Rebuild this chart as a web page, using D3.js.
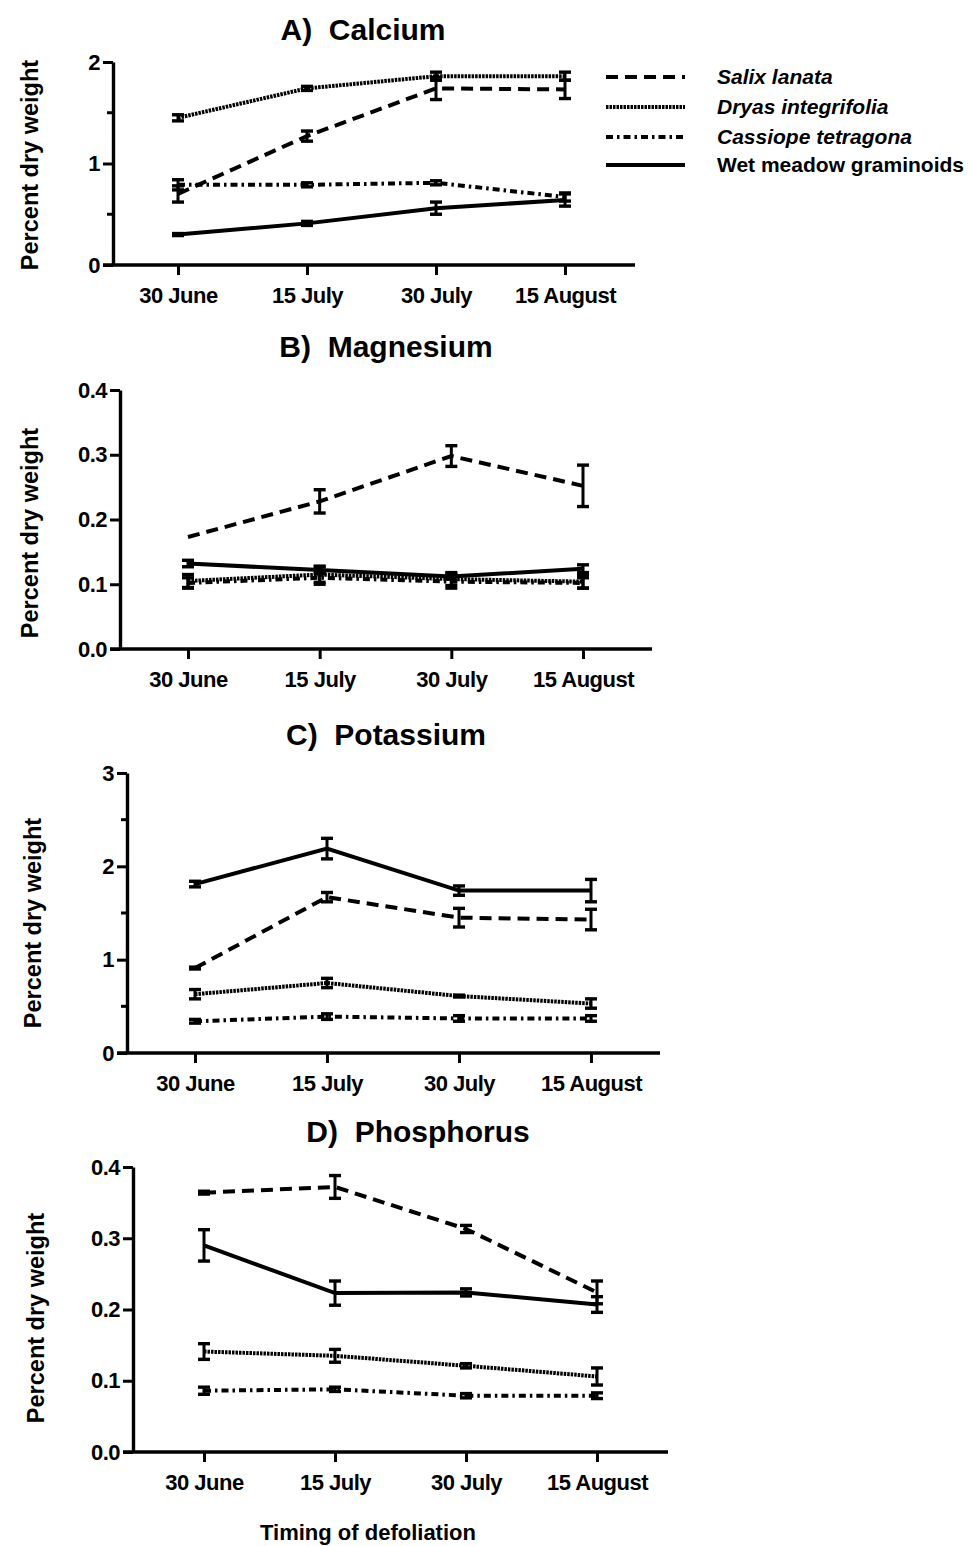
<!DOCTYPE html>
<html>
<head>
<meta charset="utf-8">
<script src="https://cdn.jsdelivr.net/npm/d3@7"></script>
<style>
  body { margin: 0; background: #fff; }
  svg text { font-family: "Liberation Sans", Arial, Helvetica, sans-serif; font-weight: bold; fill: #000; }
</style>
</head>
<body>
<svg id="chart" width="971" height="1546"></svg>
<script>
// Defoliation dates and species
const dates = ["30 June", "15 July", "30 July", "15 August"];
const species = ["Salix lanata", "Dryas integrifolia", "Cassiope tetragona", "Wet meadow graminoids"];
const speciesItalic = [true, true, true, false];

// Calcium (% dry weight): rows = species, columns = dates
const calciumTicks = [0, 1, 2];
const calciumMeans = [
  [0.70, 1.27, 1.74, 1.73],
  [1.45, 1.74, 1.86, 1.86],
  [0.79, 0.79, 0.81, 0.67],
  [0.30, 0.41, 0.56, 0.64]
];
const calciumErrors = [
  [0.08, 0.05, 0.11, 0.09],
  [0.03, 0.02, 0.04, 0.04],
  [0.05, 0.02, 0.02, 0.04],
  [0.01, 0.02, 0.06, 0.06]
];

// Magnesium
const magnesiumTicks = [0, 0.1, 0.2, 0.3, 0.4];
const magnesiumMeans = [
  [0.173, 0.228, 0.298, 0.252],
  [0.105, 0.115, 0.108, 0.104],
  [0.102, 0.110, 0.104, 0.102],
  [0.132, 0.122, 0.112, 0.124]
];
const magnesiumErrors = [
  [0.000, 0.018, 0.016, 0.032],
  [0.010, 0.012, 0.010, 0.010],
  [0.008, 0.010, 0.010, 0.008],
  [0.005, 0.006, 0.004, 0.006]
];

// Potassium
const potassiumTicks = [0, 1, 2, 3];
const potassiumMeans = [
  [0.91, 1.67, 1.45, 1.43],
  [0.63, 0.75, 0.61, 0.53],
  [0.34, 0.39, 0.37, 0.37],
  [1.81, 2.19, 1.74, 1.74]
];
const potassiumErrors = [
  [0.01, 0.05, 0.10, 0.11],
  [0.05, 0.05, 0.01, 0.05],
  [0.02, 0.03, 0.03, 0.03],
  [0.03, 0.11, 0.05, 0.12]
];

// Phosphorus
const phosphorusTicks = [0, 0.1, 0.2, 0.3, 0.4];
const phosphorusMeans = [
  [0.364, 0.372, 0.313, 0.224],
  [0.141, 0.135, 0.121, 0.106],
  [0.086, 0.088, 0.079, 0.079],
  [0.290, 0.223, 0.224, 0.207]
];
const phosphorusErrors = [
  [0.002, 0.016, 0.005, 0.016],
  [0.011, 0.009, 0.003, 0.012],
  [0.005, 0.003, 0.003, 0.004],
  [0.022, 0.017, 0.005, 0.011]
];

// Line styles per species
const dashes = ["12,7", "2.5,1", "7,4,2.5,4", null];

const svg = d3.select("#chart");

const panels = [
  { title: "A)  Calcium", ticks: calciumTicks, means: calciumMeans, errs: calciumErrors, fmt: d3.format("d"), minor: true,
    axisX: 113, x0: 178, x1: 565, y0: 265, yTop: 62, xEnd: 635, titleX: 363, titleY: 40, labelX: 30, labelY: 165 },
  { title: "B)  Magnesium", ticks: magnesiumTicks, means: magnesiumMeans, errs: magnesiumErrors, fmt: d3.format(".1f"), minor: false,
    axisX: 120, x0: 188, x1: 583, y0: 649, yTop: 390, xEnd: 652, titleX: 386, titleY: 357, labelX: 30, labelY: 533 },
  { title: "C)  Potassium", ticks: potassiumTicks, means: potassiumMeans, errs: potassiumErrors, fmt: d3.format("d"), minor: true,
    axisX: 127, x0: 195, x1: 591, y0: 1053, yTop: 773, xEnd: 660, titleX: 386, titleY: 745, labelX: 33, labelY: 923 },
  { title: "D)  Phosphorus", ticks: phosphorusTicks, means: phosphorusMeans, errs: phosphorusErrors, fmt: d3.format(".1f"), minor: false,
    axisX: 133, x0: 204, x1: 597, y0: 1452, yTop: 1167, xEnd: 668, titleX: 418, titleY: 1142, labelX: 36, labelY: 1318 }
];

panels.forEach(p => {
  const g = svg.append("g");
  const x = d3.scalePoint().domain(dates).range([p.x0, p.x1]);
  const yMax = p.ticks[p.ticks.length - 1];
  const y = d3.scaleLinear().domain([0, yMax]).range([p.y0, p.yTop]);

  // Title
  g.append("text")
    .attr("x", p.titleX).attr("y", p.titleY)
    .attr("text-anchor", "middle")
    .style("font-size", "30px")
    .style("white-space", "pre")
    .text(p.title);

  // Y axis label
  g.append("text")
    .attr("transform", `translate(${p.labelX},${p.labelY}) rotate(-90)`)
    .attr("text-anchor", "middle")
    .attr("dominant-baseline", "central")
    .style("font-size", "23.5px")
    .text("Percent dry weight");

  // Y axis
  const yAxis = d3.axisLeft(y).tickValues(p.ticks).tickFormat(p.fmt).tickSize(10).tickSizeOuter(0).tickPadding(3);
  const ya = g.append("g").attr("transform", `translate(${p.axisX},0)`).call(yAxis);
  ya.select(".domain").attr("stroke", "#000").attr("stroke-width", 3.4);
  ya.selectAll(".tick line").attr("stroke", "#000").attr("stroke-width", 3);
  ya.selectAll(".tick text").style("font-size", "22px").style("letter-spacing", "-0.5px").attr("fill", "#000");

  if (p.minor) {
    const minorVals = d3.range(0.5, yMax, 1);
    g.append("g").selectAll("line").data(minorVals).join("line")
      .attr("x1", p.axisX - 6).attr("x2", p.axisX)
      .attr("y1", d => y(d)).attr("y2", d => y(d))
      .attr("stroke", "#000").attr("stroke-width", 3);
  }

  // X axis
  g.append("line")
    .attr("x1", p.axisX - 10).attr("x2", p.xEnd)
    .attr("y1", p.y0).attr("y2", p.y0)
    .attr("stroke", "#000").attr("stroke-width", 3.4);
  const xAxis = d3.axisBottom(x).tickSize(10).tickSizeOuter(0).tickPadding(12);
  const xa = g.append("g").attr("transform", `translate(0,${p.y0})`).call(xAxis);
  xa.select(".domain").remove();
  xa.selectAll(".tick line").attr("stroke", "#000").attr("stroke-width", 3);
  xa.selectAll(".tick text").style("font-size", "22px").style("letter-spacing", "-0.5px").attr("fill", "#000");

  // Series lines
  const line = d3.line().x((d, i) => x(dates[i])).y(d => y(d));
  p.means.forEach((vals, s) => {
    g.append("path")
      .datum(vals)
      .attr("d", line)
      .attr("fill", "none")
      .attr("stroke", "#000")
      .attr("stroke-width", 4)
      .attr("stroke-dasharray", dashes[s]);

    // Error bars
    const eb = g.append("g");
    vals.forEach((v, i) => {
      const e = p.errs[s][i];
      if (e <= 0) return;
      const cx = x(dates[i]);
      const yt = y(v + e), yb = y(v - e);
      eb.append("line").attr("x1", cx).attr("x2", cx).attr("y1", yt).attr("y2", yb)
        .attr("stroke", "#000").attr("stroke-width", 3);
      [yt, yb].forEach(yy => {
        eb.append("line").attr("x1", cx - 6).attr("x2", cx + 6).attr("y1", yy).attr("y2", yy)
          .attr("stroke", "#000").attr("stroke-width", 3.4);
      });
    });
  });
});

// Legend
const legendRows = [77, 107, 137, 165];
const legend = svg.append("g");
species.forEach((name, s) => {
  legend.append("line")
    .attr("x1", 606).attr("x2", 685)
    .attr("y1", legendRows[s]).attr("y2", legendRows[s])
    .attr("stroke", "#000").attr("stroke-width", 4)
    .attr("stroke-dasharray", dashes[s]);
  legend.append("text")
    .attr("x", 717).attr("y", legendRows[s] + 7)
    .style("font-size", "21px")
    .style("font-style", speciesItalic[s] ? "italic" : "normal")
    .text(name);
});

// Shared x axis title
svg.append("text")
  .attr("x", 368).attr("y", 1540)
  .attr("text-anchor", "middle")
  .style("font-size", "22px")
  .text("Timing of defoliation");
</script>
</body>
</html>
